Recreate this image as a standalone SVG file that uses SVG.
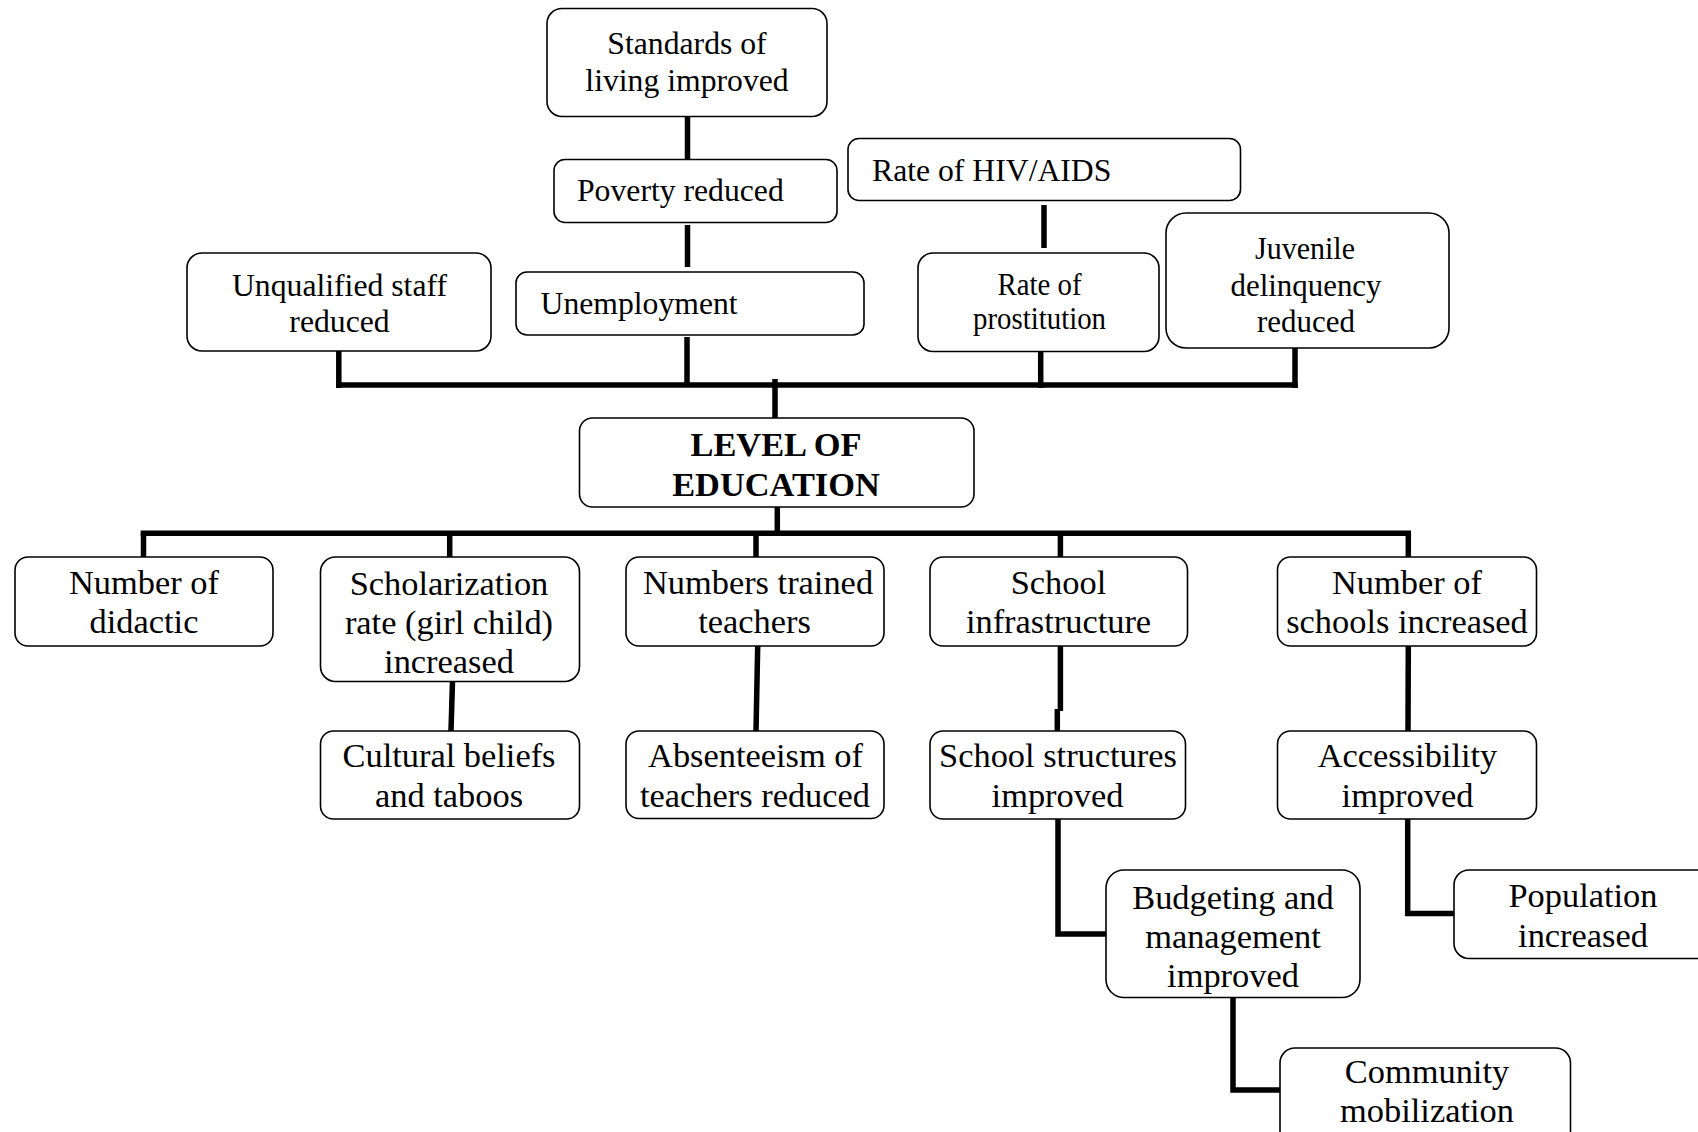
<svg xmlns="http://www.w3.org/2000/svg" width="1698" height="1132" viewBox="0 0 1698 1132">
  <style>
    .box { fill: #ffffff; stroke: #000000; stroke-width: 1.6; }
    .lbl { font-family: "Liberation Serif", "Times New Roman", serif; fill: #000000; text-anchor: middle; }
    .lft { text-anchor: start; }
    .s31 { font-size: 31.7px; }
    .s34 { font-size: 34.4px; }
    .hd { font-size: 34.4px; font-weight: bold; }
    .wire { fill: none; stroke: #000000; stroke-width: 5.5; stroke-linecap: butt; stroke-linejoin: miter; }
  </style>
  <rect x="0" y="0" width="1698" height="1132" fill="#ffffff"/>

  <!-- connectors -->
  <g id="connectors" class="wire">
    <!-- upper chain -->
    <line x1="687.5" y1="116" x2="687.5" y2="160"/>
    <line x1="687.5" y1="225" x2="687.5" y2="267"/>
    <line x1="687" y1="337" x2="687" y2="384"/>
    <line x1="1044" y1="205" x2="1044" y2="248"/>
    <!-- upper bus and drops -->
    <line x1="336" y1="385" x2="1297.8" y2="385"/>
    <line x1="338.8" y1="342" x2="338.8" y2="388"/>
    <line x1="1040.7" y1="343" x2="1040.7" y2="388"/>
    <line x1="1295" y1="342" x2="1295" y2="388"/>
    <line x1="775" y1="379" x2="775" y2="420"/>
    <!-- lower bus and drops -->
    <line x1="777.3" y1="507" x2="777.3" y2="534"/>
    <line x1="140.7" y1="533.3" x2="1411" y2="533.3"/>
    <line x1="143.5" y1="533" x2="143.5" y2="557"/>
    <line x1="449.7" y1="533" x2="449.7" y2="557"/>
    <line x1="756" y1="533" x2="756" y2="557"/>
    <line x1="1060.4" y1="533" x2="1060.4" y2="557"/>
    <line x1="1408.3" y1="533" x2="1408.3" y2="557"/>
    <!-- second level -->
    <line x1="452.5" y1="681" x2="451" y2="731"/>
    <line x1="757.7" y1="646" x2="756" y2="731"/>
    <line x1="1060.4" y1="646" x2="1060.4" y2="711"/>
    <line x1="1057.3" y1="709" x2="1057.3" y2="731"/>
    <line x1="1408.3" y1="646" x2="1408" y2="731"/>
    <!-- elbows -->
    <path d="M1058 819 V934 H1106"/>
    <path d="M1407.7 819 V913.5 H1454"/>
    <path d="M1233 997 V1090 H1280"/>
  </g>

  <!-- upper nodes -->
  <g id="standards">
    <rect class="box" x="547" y="8.5" width="280" height="108" rx="15"/>
    <text class="lbl s31" x="687" y="53.5">Standards of</text>
    <text class="lbl s31" x="687" y="90.5">living improved</text>
  </g>
  <g id="poverty">
    <rect class="box" x="554" y="159.5" width="283" height="63" rx="11"/>
    <text class="lbl lft s31" x="577" y="201">Poverty reduced</text>
  </g>
  <g id="hiv">
    <rect class="box" x="848" y="138.5" width="392.5" height="62" rx="11"/>
    <text class="lbl lft s31" x="872" y="181">Rate of HIV/AIDS</text>
  </g>
  <g id="unemployment">
    <rect class="box" x="516" y="272" width="348" height="63" rx="11"/>
    <text class="lbl lft s31" x="540.5" y="314">Unemployment</text>
  </g>
  <g id="unqualified">
    <rect class="box" x="187" y="253" width="304" height="98" rx="15"/>
    <text class="lbl s31" x="339.5" y="296">Unqualified staff</text>
    <text class="lbl s31" x="339.5" y="332">reduced</text>
  </g>
  <g id="prostitution">
    <rect class="box" x="918" y="253" width="241" height="98.5" rx="15"/>
    <text class="lbl" font-size="31" x="1039.5" y="295" textLength="84" lengthAdjust="spacingAndGlyphs">Rate of</text>
    <text class="lbl" font-size="31" x="1039.5" y="328.5" textLength="133" lengthAdjust="spacingAndGlyphs">prostitution</text>
  </g>
  <g id="juvenile">
    <rect class="box" x="1166" y="213" width="283" height="135" rx="20"/>
    <text class="lbl" font-size="32" x="1305" y="258.5" textLength="100" lengthAdjust="spacingAndGlyphs">Juvenile</text>
    <text class="lbl" font-size="32" x="1306" y="295.5" textLength="151" lengthAdjust="spacingAndGlyphs">delinquency</text>
    <text class="lbl" font-size="32" x="1306" y="332" textLength="98" lengthAdjust="spacingAndGlyphs">reduced</text>
  </g>

  <!-- central node -->
  <g id="level-of-education">
    <rect class="box" x="579.5" y="418" width="394.5" height="89" rx="13"/>
    <text class="lbl hd" x="776" y="456">LEVEL OF</text>
    <text class="lbl hd" x="776" y="495.5">EDUCATION</text>
  </g>

  <!-- lower nodes, first row -->
  <g id="didactic">
    <rect class="box" x="15" y="557" width="258" height="89" rx="13"/>
    <text class="lbl s34" x="144" y="594">Number of</text>
    <text class="lbl s34" x="144" y="633">didactic</text>
  </g>
  <g id="scholarization">
    <rect class="box" x="320.5" y="557" width="259" height="124.5" rx="15"/>
    <text class="lbl s34" x="449" y="595">Scholarization</text>
    <text class="lbl s34" x="449" y="634">rate (girl child)</text>
    <text class="lbl s34" x="449" y="673">increased</text>
  </g>
  <g id="trained-teachers">
    <rect class="box" x="626" y="557" width="258" height="89" rx="13"/>
    <text class="lbl s34" x="758" y="593.5">Numbers trained</text>
    <text class="lbl s34" x="754.5" y="633">teachers</text>
  </g>
  <g id="infrastructure">
    <rect class="box" x="930" y="557" width="257.5" height="89" rx="13"/>
    <text class="lbl s34" x="1058.5" y="593.5">School</text>
    <text class="lbl s34" x="1058.5" y="633">infrastructure</text>
  </g>
  <g id="number-of-schools">
    <rect class="box" x="1277.5" y="557" width="259" height="89" rx="13"/>
    <text class="lbl s34" x="1407" y="593.5">Number of</text>
    <text class="lbl s34" x="1407" y="633">schools increased</text>
  </g>

  <!-- lower nodes, second row -->
  <g id="cultural-beliefs">
    <rect class="box" x="320.5" y="731" width="259" height="88" rx="13"/>
    <text class="lbl s34" x="449" y="767">Cultural beliefs</text>
    <text class="lbl s34" x="449" y="806.5">and taboos</text>
  </g>
  <g id="absenteeism">
    <rect class="box" x="626" y="731" width="258" height="87.5" rx="13"/>
    <text class="lbl s34" x="755.5" y="767">Absenteeism of</text>
    <text class="lbl s34" x="755" y="806.5">teachers reduced</text>
  </g>
  <g id="school-structures">
    <rect class="box" x="930" y="731" width="255.5" height="88" rx="13"/>
    <text class="lbl s34" x="1058" y="767">School structures</text>
    <text class="lbl s34" x="1057.5" y="806.5">improved</text>
  </g>
  <g id="accessibility">
    <rect class="box" x="1277.5" y="731" width="259" height="88" rx="13"/>
    <text class="lbl s34" x="1407.5" y="767">Accessibility</text>
    <text class="lbl s34" x="1407.5" y="806.5">improved</text>
  </g>

  <!-- lower nodes, third and fourth rows -->
  <g id="budgeting">
    <rect class="box" x="1106" y="870" width="254" height="127.5" rx="18"/>
    <text class="lbl s34" x="1233" y="908.5">Budgeting and</text>
    <text class="lbl s34" x="1233" y="948">management</text>
    <text class="lbl s34" x="1233" y="986.5">improved</text>
  </g>
  <g id="population">
    <rect class="box" x="1454" y="870" width="260" height="88.5" rx="15"/>
    <text class="lbl s34" x="1583" y="906.5">Population</text>
    <text class="lbl s34" x="1583" y="946.5">increased</text>
  </g>
  <g id="community">
    <rect class="box" x="1280" y="1048" width="290.5" height="100" rx="15"/>
    <text class="lbl s34" x="1427" y="1082.5">Community</text>
    <text class="lbl s34" x="1427" y="1122">mobilization</text>
  </g>
</svg>
